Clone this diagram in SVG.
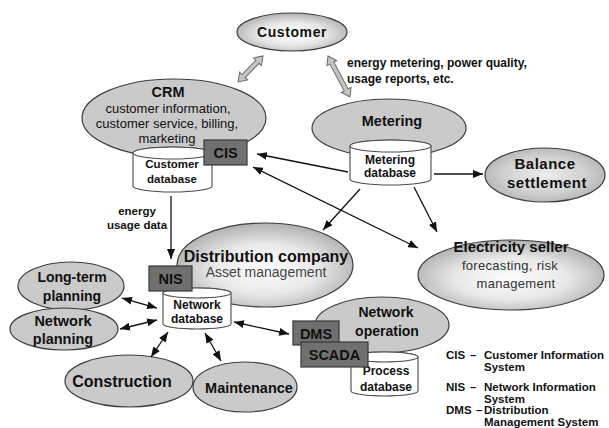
<svg xmlns="http://www.w3.org/2000/svg" width="609" height="428" viewBox="0 0 609 428">
  <defs>
    <radialGradient id="shine" cx="50%" cy="55%" r="55%">
      <stop offset="0" stop-color="#fdfdfd"/>
      <stop offset="0.55" stop-color="#e8e8e8"/>
      <stop offset="1" stop-color="#b0b0b0"/>
    </radialGradient>
    <radialGradient id="shineDark" cx="50%" cy="50%" r="55%">
      <stop offset="0" stop-color="#ececec"/>
      <stop offset="0.6" stop-color="#d2d2d2"/>
      <stop offset="1" stop-color="#b2b2b2"/>
    </radialGradient>
    <marker id="head" viewBox="0 0 10 8" refX="10" refY="4" markerWidth="10" markerHeight="8" markerUnits="userSpaceOnUse" orient="auto-start-reverse">
      <path d="M0,0 L10,4 L0,8 Z" fill="#111"/>
    </marker>
    <style>
      text { font-family: "Liberation Sans", Arial, sans-serif; fill: #111; }
      .b { font-weight: bold; }
      .mid { text-anchor: middle; }
      .flat { fill: #cacaca; stroke: #3c3c3c; stroke-width: 1.2; }
      .grad { fill: url(#shine); stroke: #3c3c3c; stroke-width: 1.2; }
      .gradDark { fill: url(#shineDark); stroke: #3c3c3c; stroke-width: 1.2; }
      .cyl { fill: #ffffff; stroke: #4a4a4a; stroke-width: 1.1; }
      .box { fill: #707070; stroke: #383838; stroke-width: 1.2; }
      .link { stroke: #111; stroke-width: 1.3; fill: none; }
      .block { fill: #c4c4c4; stroke: #6a6a6a; stroke-width: 1; }
      .sub { fill: #333; }
      .legend { font-weight: bold; font-size: 11.5px; }
    </style>
  </defs>

  <rect width="609" height="428" fill="#ffffff"/>

  <!-- Customer -->
  <g id="customer">
    <ellipse class="grad" cx="292" cy="32" rx="55" ry="19"/>
    <text class="b mid" x="292" y="37" font-size="14" letter-spacing="0.6">Customer</text>
  </g>

  <!-- CRM with customer database and CIS -->
  <g id="crm">
    <ellipse class="flat" cx="174" cy="118" rx="92" ry="39"/>
    <text class="b mid" x="168" y="97" font-size="14.5">CRM</text>
    <text class="mid" x="168" y="113" font-size="13">customer information,</text>
    <text class="mid" x="167" y="128" font-size="13">customer service, billing,</text>
    <text class="mid" x="167" y="143" font-size="13">marketing</text>
    <path class="cyl" d="M133,153 L133,186 A39.5,6 0 0 0 212,186 L212,153 A39.5,6 0 0 0 133,153 Z"/>
    <ellipse class="cyl" cx="172.5" cy="153" rx="39.5" ry="6"/>
    <text class="b mid" x="172" y="168" font-size="11.5">Customer</text>
    <text class="b mid" x="172" y="183" font-size="11.5">database</text>
  </g>
  <g id="cis">
    <rect class="box" x="204" y="140" width="43" height="25"/>
    <text class="b mid" x="225.5" y="158" font-size="14.5">CIS</text>
  </g>

  <!-- Metering -->
  <g id="metering">
    <ellipse class="flat" cx="389" cy="128" rx="77" ry="29"/>
    <text class="b mid" x="392" y="126" font-size="14.5">Metering</text>
    <path class="cyl" d="M350,146 L350,179 A40.5,6 0 0 0 431,179 L431,146 A40.5,6 0 0 0 350,146 Z"/>
    <ellipse class="cyl" cx="390.5" cy="146" rx="40.5" ry="6"/>
    <text class="b mid" x="390" y="164" font-size="12">Metering</text>
    <text class="b mid" x="390" y="177" font-size="12">database</text>
  </g>

  <!-- Balance settlement -->
  <g id="balance">
    <ellipse class="gradDark" cx="545" cy="175" rx="60" ry="27"/>
    <text class="b mid" x="545" y="169" font-size="15" letter-spacing="0.5">Balance</text>
    <text class="b mid" x="547" y="188" font-size="15" letter-spacing="0.5">settlement</text>
  </g>

  <!-- Electricity seller -->
  <g id="seller">
    <ellipse class="grad" cx="511" cy="275" rx="93" ry="35"/>
    <text class="b mid" x="511" y="252" font-size="15">Electricity seller</text>
    <text class="mid sub" x="510" y="270" font-size="13" letter-spacing="0.3">forecasting, risk</text>
    <text class="mid sub" x="516" y="288" font-size="13" letter-spacing="0.3">management</text>
  </g>

  <!-- Distribution company -->
  <g id="distribution">
    <ellipse class="grad" cx="265" cy="265" rx="88" ry="42"/>
    <text class="b mid" x="266" y="262" font-size="16">Distribution company</text>
    <text class="mid" x="266" y="277" font-size="14" style="fill:#444">Asset management</text>
  </g>
  <g id="network-db">
    <path class="cyl" d="M163,293 L163,324 A34,5 0 0 0 231,324 L231,293 A34,5 0 0 0 163,293 Z"/>
    <ellipse class="cyl" cx="197" cy="293" rx="34" ry="5"/>
    <text class="b mid" x="197" y="309" font-size="12">Network</text>
    <text class="b mid" x="197" y="323" font-size="12">database</text>
  </g>
  <g id="nis">
    <rect class="box" x="149" y="266" width="43" height="25"/>
    <text class="b mid" x="170.5" y="284" font-size="14.5">NIS</text>
  </g>

  <!-- Planning, construction and maintenance -->
  <g id="long-term-planning">
    <ellipse class="flat" cx="71" cy="286" rx="53" ry="24"/>
    <text class="b mid" x="72" y="282" font-size="14">Long-term</text>
    <text class="b mid" x="72" y="301" font-size="14">planning</text>
  </g>
  <g id="network-planning">
    <ellipse class="flat" cx="64" cy="329" rx="54" ry="21"/>
    <text class="b mid" x="63" y="326" font-size="14.5">Network</text>
    <text class="b mid" x="63" y="344" font-size="14.5">planning</text>
  </g>
  <g id="construction">
    <ellipse class="flat" cx="129" cy="381" rx="64" ry="26"/>
    <text class="b mid" x="122" y="387" font-size="16">Construction</text>
  </g>
  <g id="maintenance">
    <ellipse class="flat" cx="245" cy="387" rx="52" ry="25"/>
    <text class="b mid" x="249" y="393" font-size="14.5">Maintenance</text>
  </g>

  <!-- Network operation with process database, DMS and SCADA -->
  <g id="network-operation">
    <ellipse class="flat" cx="382" cy="325" rx="67" ry="28"/>
    <text class="b mid" x="386" y="317" font-size="14">Network</text>
    <text class="b mid" x="387" y="336" font-size="14">operation</text>
    <path class="cyl" d="M351,357 L351,391 A33.5,5 0 0 0 418,391 L418,357 A33.5,5 0 0 0 351,357 Z"/>
    <ellipse class="cyl" cx="384.5" cy="357" rx="33.5" ry="5"/>
    <text class="b mid" x="386" y="375" font-size="12">Process</text>
    <text class="b mid" x="386" y="391" font-size="12">database</text>
  </g>
  <g id="dms">
    <rect class="box" x="293" y="321" width="46" height="24"/>
    <text class="b mid" x="316" y="339" font-size="14.5">DMS</text>
  </g>
  <g id="scada">
    <rect class="box" x="301" y="342" width="67" height="25"/>
    <text class="b mid" x="334.5" y="360" font-size="14.5">SCADA</text>
  </g>

  <!-- Connectors -->
  <g id="connectors">
    <!-- hollow two-way arrows to the customer -->
    <polygon class="block" transform="translate(263,56) rotate(133.9)" points="0,0 8,-5.5 8,-2.2 28,-2.2 28,-5.5 36,0 28,5.5 28,2.2 8,2.2 8,5.5"/>
    <polygon class="block" transform="translate(328,56) rotate(61.8)" points="0,0 8,-5.5 8,-2.2 38.5,-2.2 38.5,-5.5 46.5,0 38.5,5.5 38.5,2.2 8,2.2 8,5.5"/>

    <line class="link" x1="348" y1="172" x2="257" y2="154" marker-end="url(#head)"/>
    <line class="link" x1="253" y1="167" x2="418" y2="248" marker-start="url(#head)" marker-end="url(#head)"/>
    <line class="link" x1="434" y1="174" x2="483" y2="174" marker-end="url(#head)"/>
    <line class="link" x1="360" y1="189" x2="323" y2="230" marker-end="url(#head)"/>
    <line class="link" x1="414" y1="187" x2="437" y2="232" marker-end="url(#head)"/>
    <line class="link" x1="171" y1="196" x2="171" y2="259" marker-end="url(#head)"/>

    <line class="link" x1="122" y1="298" x2="157" y2="308" marker-start="url(#head)" marker-end="url(#head)"/>
    <line class="link" x1="120" y1="329" x2="157" y2="320" marker-start="url(#head)" marker-end="url(#head)"/>
    <line class="link" x1="151" y1="357" x2="168" y2="332" marker-start="url(#head)" marker-end="url(#head)"/>
    <line class="link" x1="205" y1="333" x2="221" y2="361" marker-start="url(#head)" marker-end="url(#head)"/>
    <line class="link" x1="234" y1="322" x2="289" y2="334" marker-start="url(#head)" marker-end="url(#head)"/>
  </g>

  <!-- Connector labels -->
  <g id="labels">
    <text class="b" x="347" y="67" font-size="12">energy metering, power quality,</text>
    <text class="b" x="347" y="83" font-size="12">usage reports, etc.</text>
    <text class="b mid" x="137" y="215" font-size="11.5">energy</text>
    <text class="b mid" x="137" y="229" font-size="11.5">usage data</text>
  </g>

  <!-- Legend -->
  <g id="legend">
    <text class="legend" x="446" y="359">CIS</text>
    <text class="legend" x="470" y="359">–</text>
    <text class="legend" x="484" y="359">Customer Information</text>
    <text class="legend" x="484" y="371">System</text>
    <text class="legend" x="446" y="391">NIS</text>
    <text class="legend" x="470" y="391">–</text>
    <text class="legend" x="484" y="391">Network Information</text>
    <text class="legend" x="484" y="403">System</text>
    <text class="legend" x="446" y="414">DMS</text>
    <text class="legend" x="476" y="414">–</text>
    <text class="legend" x="484" y="414">Distribution</text>
    <text class="legend" x="484" y="426">Management System</text>
  </g>
</svg>
